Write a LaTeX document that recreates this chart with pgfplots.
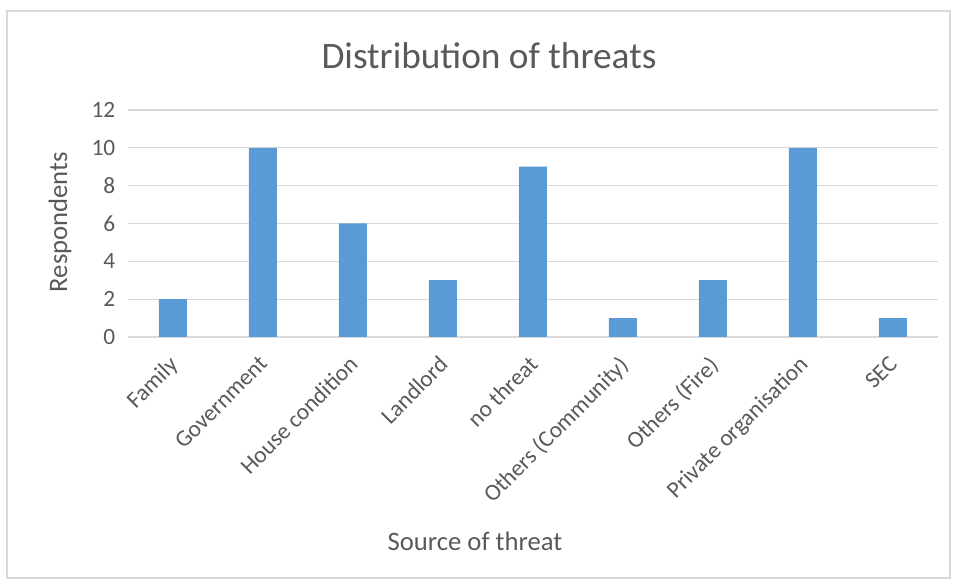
\documentclass[border=0pt]{standalone}
\usepackage{pgfplots}
\pgfplotsset{compat=1.18}
\usepackage{fontspec}
\setmainfont{Carlito}
\definecolor{barblue}{HTML}{5B9BD5}
\definecolor{gridgray}{HTML}{D9D9D9}
\definecolor{txtgray}{HTML}{595959}
\begin{document}
\begin{tikzpicture}
\path[use as bounding box] ({-128*0.75pt},{-244*0.75pt}) rectangle ({830*0.75pt},{337*0.75pt});
\draw[gridgray, line width=0.9pt] ({-121*0.75pt},{-241*0.75pt}) rectangle ({822*0.75pt},{326*0.75pt});
\begin{axis}[
  at={(0,0)}, anchor=south west,
  scale only axis,
  width={810*0.75pt}, height={227*0.75pt},
  xmin=-0.5, xmax=8.5, ymin=0, ymax=12,
  ytick={0,2,...,12},
  xtick={0,...,8},
  xticklabels={Family,Government,House condition,Landlord,no threat,Others (Community),Others (Fire),Private organisation,SEC},
  xticklabel style={xshift=-4pt, yshift=-8.3pt, rotate=45, anchor=north east, font=\fontsize{17.5}{20}\selectfont, text=txtgray},
  yticklabel style={font=\fontsize{17.5}{20}\selectfont, text=txtgray, xshift=-6pt},
  /pgf/number format/assume math mode=true,
  axis line style={draw=none},
  major tick length=0pt,
  ymajorgrids, grid style={gridgray, line width=0.9pt},
  ybar, bar width={28*0.75pt},
  clip=false,
]
\addplot[fill=barblue, draw=none] coordinates {(0,2) (1,10) (2,6) (3,3) (4,9) (5,1) (6,3) (7,10) (8,1)};
\end{axis}
\node[text=txtgray, font=\fontsize{28}{32}\selectfont] at ({361*0.75pt},{281*0.75pt}) {Distribution of threats};
\node[text=txtgray, font=\fontsize{20}{24}\selectfont, rotate=90] at ({-68*0.75pt},{115*0.75pt}) {Respondents};
\node[text=txtgray, font=\fontsize{20}{24}\selectfont] at ({347*0.75pt},{-204*0.75pt}) {Source of threat};
\end{tikzpicture}
\end{document}
